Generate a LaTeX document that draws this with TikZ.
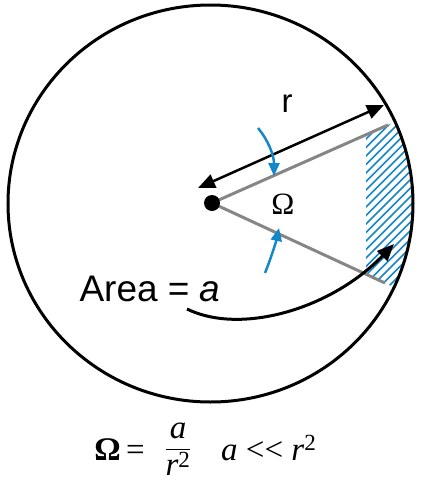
\documentclass[tikz,border=0pt]{standalone}
\usepackage{amsmath}
\usepackage{fontspec}
\setmainfont{Liberation Serif}
\setsansfont{Liberation Sans}
\usetikzlibrary{arrows.meta,calc}
\definecolor{hatchblue}{RGB}{20,135,200}

\begin{document}
\begin{tikzpicture}[x=1pt,y=-1pt]
    \useasboundingbox (0,0) rectangle (421,483);
    %
    \coordinate (C) at (210.5,203.5);
    \coordinate (O) at (212,203);
    \coordinate (P) at (388,125);
    \coordinate (Q) at (385,283);

    %
    \begin{scope}
        \clip (O) -- ($(O)!1.4!(P)$) -- ($(O)!1.4!(Q)$) -- cycle;
        \clip (366,0) rectangle (421,400);
        \clip (C) ellipse [x radius=202, y radius=198];
        \foreach \k in {0,...,45}
            \draw[hatchblue, line width=1.5pt] (330,90+\k*8.5) -- ++(95,-95);
    \end{scope}

    %
    \draw[line width=3pt] (C) ellipse [x radius=202.5, y radius=198.5];

    %
    \draw[line width=3pt, gray!95] (P) -- (O) -- (Q);
    \fill (O) circle (8);

    %
    \coordinate (R1) at (198,188);
    \coordinate (R2) at (384,105);
    \draw[line width=2.5pt, {Triangle[length=17pt,width=14pt]}-{Triangle[length=17pt,width=14pt]}] (R1) -- (R2);
    \node[font=\fontsize{33}{38}\selectfont\sffamily] (r) at (287,104) {r};

    %
    \coordinate (U1) at (258,128);
    \coordinate (U2) at (274,176);
    \coordinate (L1) at (265,273);
    \coordinate (L2) at (279,228);
    \draw[hatchblue, line width=2.5pt, -{Triangle[length=13pt,width=11pt]}] (U1) .. controls (268,140) and (274,155) .. (U2);
    \draw[hatchblue, line width=2.5pt, -{Triangle[length=13pt,width=11pt]}] (L1) .. controls (271,258) and (276,242) .. (L2);

    \node[font=\fontsize{31}{36}\selectfont] (omega) at (283,204) {Ω};

    %
    \node[font=\fontsize{37}{44}\selectfont\sffamily, anchor=base west] (area) at (76,301) {Area = \textit{a}};
    \coordinate (A1) at (187,309);
    \coordinate (A2) at (394,244);
    \draw[line width=3pt, -{Triangle[length=17pt,width=14pt]}] (A1) .. controls (240,335) and (330,310) .. (A2);

    %
    \node[font=\fontsize{33}{38}\selectfont, anchor=base east, inner sep=0pt] (eqleft) at (145,460) {\textbf{Ω}\,=};
    \node[font=\fontsize{33}{38}\selectfont, inner sep=0pt] (eqfrac) at (178,449)
        {$\dfrac{\textit{a}}{\textit{r}^{\text{2}}}$};
    \node[font=\fontsize{33}{38}\selectfont, anchor=base west, inner sep=0pt] (eqright) at (221,460)
        {\textit{a}\ \mbox{<}\mbox{<}\ \textit{r}\textsuperscript{2}};

\end{tikzpicture}
\end{document}
